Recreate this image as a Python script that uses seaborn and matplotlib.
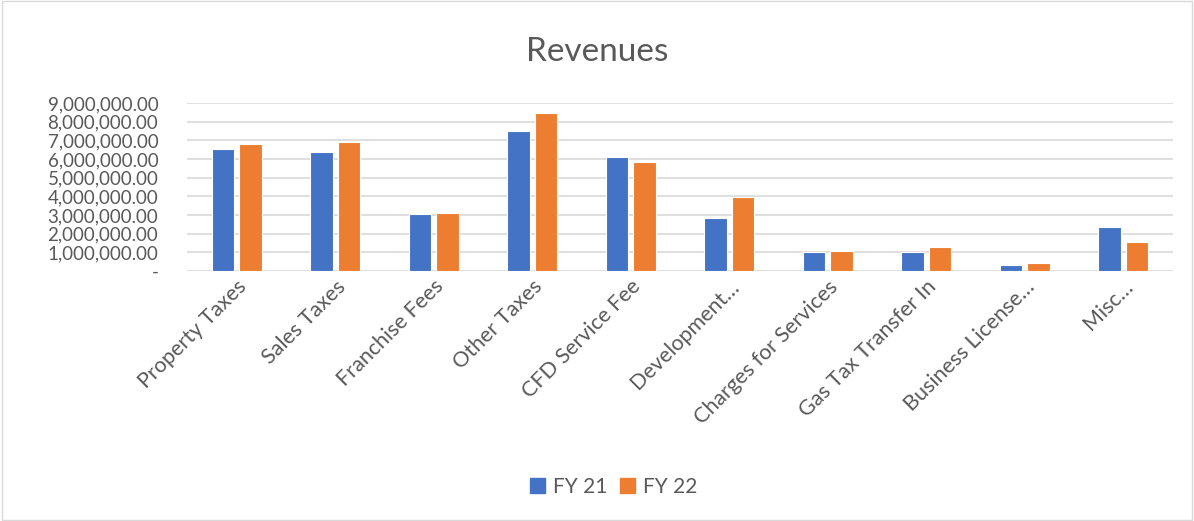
import numpy as np
import pandas as pd
import seaborn as sns
import matplotlib.pyplot as plt
from matplotlib.patches import Rectangle
from matplotlib.ticker import FuncFormatter

categories = ['Property Taxes', 'Sales Taxes', 'Franchise Fees', 'Other Taxes',
              'CFD Service Fee', 'Development\u2026', 'Charges for Services',
              'Gas Tax Transfer In', 'Business License\u2026', 'Misc\u2026']
fy21 = [6540000, 6400000, 3030000, 7530000, 6130000, 2850000, 1020000, 990000, 320000, 2380000]
fy22 = [6790000, 6940000, 3120000, 8460000, 5860000, 3980000, 1090000, 1270000, 430000, 1540000]

df = pd.DataFrame({
    'cat': categories * 2,
    'val': fy21 + fy22,
    'series': ['FY 21'] * len(categories) + ['FY 22'] * len(categories),
})

sns.set_theme(style='white')
plt.rcParams['font.family'] = ['Lato', 'DejaVu Sans']
txt = '#595959'

fig = plt.figure(figsize=(11.94, 5.21), dpi=100)
ax = fig.add_axes([0.157, 0.48, 0.825, 0.322])

sns.barplot(data=df, x='cat', y='val', hue='series', order=categories,
            palette=['#4472C4', '#ED7D31'], saturation=1, width=0.56, gap=0.18,
            edgecolor='white', linewidth=0.8, ax=ax, legend=False)

ax.set_ylim(0, 9000000)
ax.set_yticks(np.arange(0, 9000001, 1000000))
ax.yaxis.set_major_formatter(FuncFormatter(lambda v, p: '-' if v == 0 else f'{v:,.2f}'))
ax.grid(axis='y', color='#D9D9D9', linewidth=1.2)
ax.set_axisbelow(True)
for s in ax.spines.values():
    s.set_visible(False)
ax.tick_params(axis='y', labelsize=13.5, labelcolor=txt, length=0, pad=21)
ax.tick_params(axis='x', labelsize=15.5, labelcolor=txt, length=0, pad=4)
plt.setp(ax.get_xticklabels(), rotation=45, ha='right', rotation_mode='anchor')
ax.set_xlabel('')
ax.set_ylabel('')

fig.text(0.5, 0.9, 'Revenues', ha='center', va='center', fontsize=24, color=txt)

handles = [Rectangle((0, 0), 1, 1, color='#4472C4'), Rectangle((0, 0), 1, 1, color='#ED7D31')]
fig.legend(handles, ['FY 21', 'FY 22'], loc='center', bbox_to_anchor=(0.514, 0.066), ncol=2,
           frameon=False, fontsize=15, labelcolor=txt, handlelength=0.7, handleheight=0.7,
           columnspacing=0.6, handletextpad=0.4)

fig.patches.append(Rectangle((0.002, 0.002), 0.996, 0.996, transform=fig.transFigure,
                             fill=False, edgecolor='#D9D9D9', linewidth=1))

fig.savefig('out.png', dpi=100)
